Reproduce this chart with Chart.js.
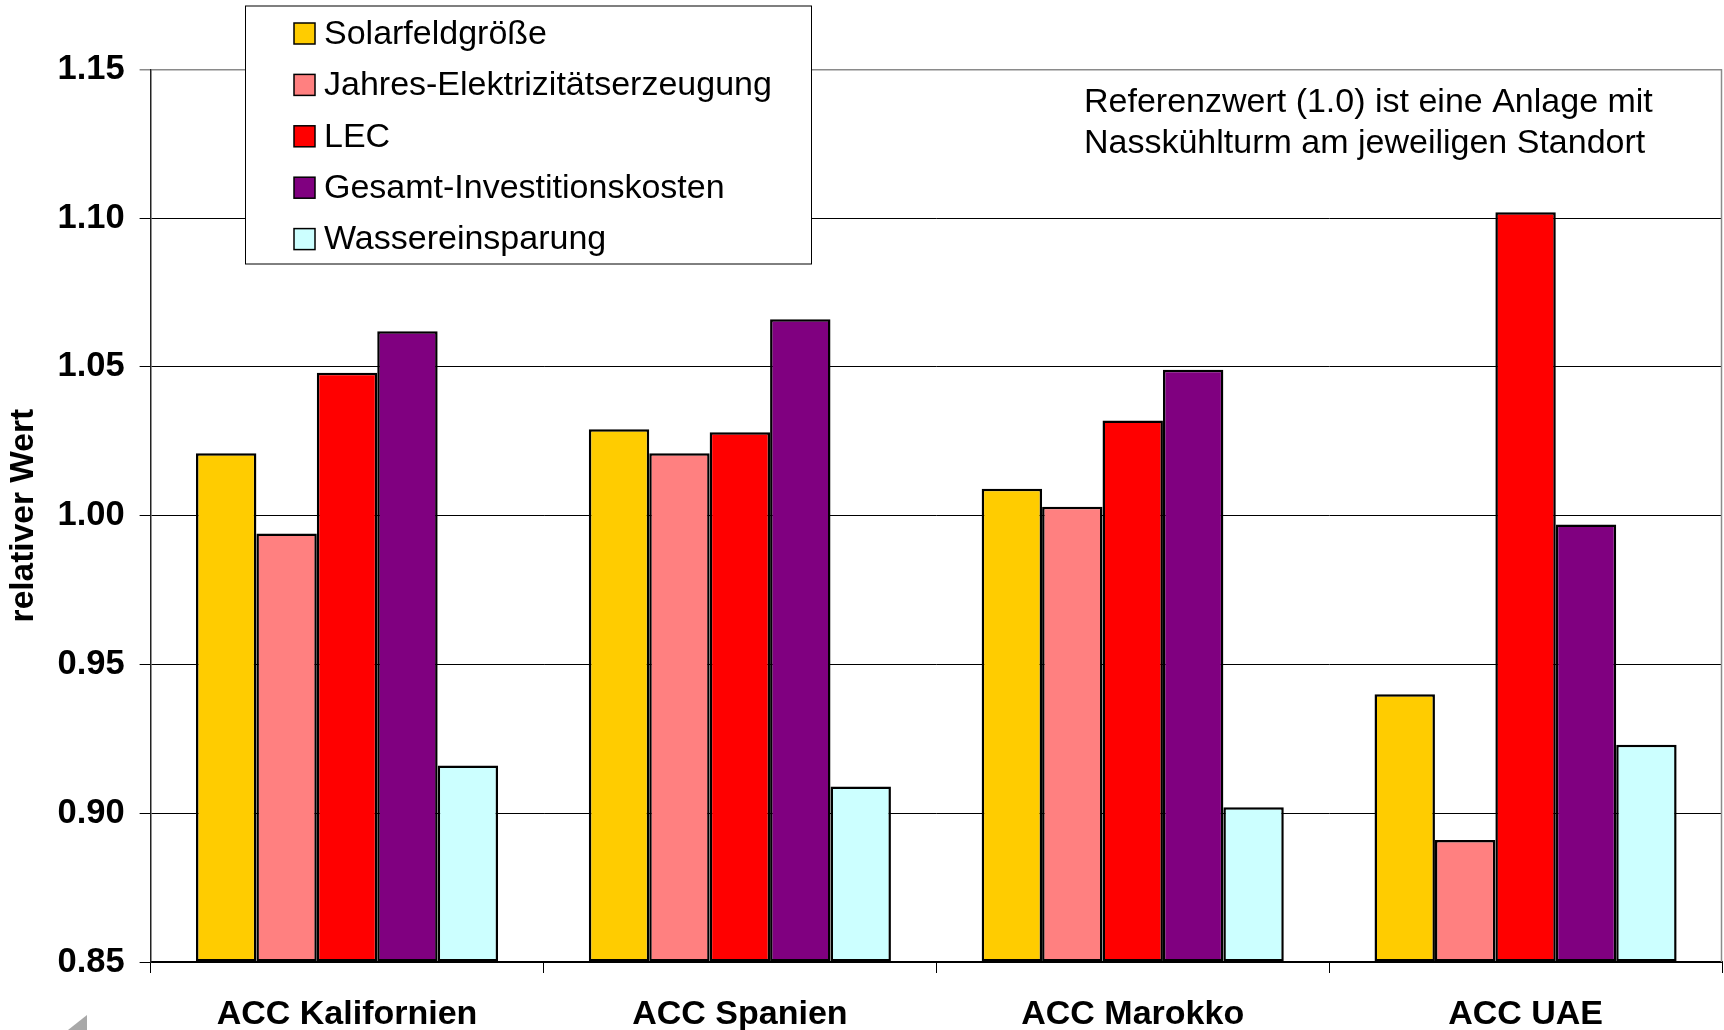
<!DOCTYPE html>
<html>
<head>
<meta charset="utf-8">
<script src="https://cdn.jsdelivr.net/npm/chart.js@4.4.1/dist/chart.umd.min.js"></script>
<style>
  html, body { margin: 0; padding: 0; background: #fff; }
  #wrap { width: 1724px; height: 1030px; position: relative; }
</style>
</head>
<body>
<div id="wrap"><canvas id="c" width="1724" height="1030"></canvas></div>
<script>
// Standorte mit Trockenkühlung (ACC), relativ zur Anlage mit Nasskühlturm
const categories = ['ACC Kalifornien', 'ACC Spanien', 'ACC Marokko', 'ACC UAE'];

const seriesNames = [
  'Solarfeldgröße',
  'Jahres-Elektrizitätserzeugung',
  'LEC',
  'Gesamt-Investitionskosten',
  'Wassereinsparung'
];

const solarfeld     = [1.021, 1.029, 1.009, 0.940];
const jahresStrom   = [0.994, 1.021, 1.003, 0.891];
const lec           = [1.048, 1.028, 1.032, 1.102];
const investition   = [1.062, 1.066, 1.049, 0.997];
const wasser        = [0.916, 0.909, 0.902, 0.923];

const seriesColors = ['#FFCC00', '#FF8080', '#FF0000', '#800080', '#CCFFFF'];

const noteLines = [
  'Referenzwert (1.0) ist eine Anlage mit',
  'Nasskühlturm am jeweiligen Standort'
];

const FONT = '"Liberation Sans", Arial, sans-serif';

const seriesValues = [solarfeld, jahresStrom, lec, investition, wasser];

const datasets = seriesValues.map((vals, i) => ({
  label: seriesNames[i],
  data: vals,
  backgroundColor: seriesColors[i],
  borderColor: '#000',
  borderWidth: 2.5,
  borderSkipped: false,
  base: 0.85,
  categoryPercentage: 0.769,
  barPercentage: 1.0
}));

// Boxed legend, note text, plot frame and the small corner mark
const overlay = {
  id: 'overlay',
  beforeDatasetsDraw(chart) {
    const { ctx, chartArea: a } = chart;
    ctx.save();
    ctx.strokeStyle = '#8a8a8a';
    ctx.lineWidth = 1.5;
    ctx.beginPath();
    ctx.moveTo(a.right - 0.5, a.top);
    ctx.lineTo(a.right - 0.5, a.bottom);
    ctx.stroke();
    ctx.restore();
  },
  afterDraw(chart) {
    const { ctx } = chart;
    ctx.save();

    // legend box
    const bx = 245.5, by = 6, bw = 566, bh = 258;
    ctx.fillStyle = '#fff';
    ctx.fillRect(bx, by, bw, bh);
    ctx.strokeStyle = '#000';
    ctx.lineWidth = 1;
    ctx.strokeRect(bx, by, bw, bh);

    ctx.font = '34px ' + FONT;
    ctx.textBaseline = 'middle';
    ctx.textAlign = 'left';
    chart.data.datasets.forEach((ds, i) => {
      const cy = 33.5 + i * 51.4;
      ctx.fillStyle = ds.backgroundColor;
      ctx.fillRect(294, cy - 10.5, 21, 21);
      ctx.strokeStyle = '#000';
      ctx.lineWidth = 1.5;
      ctx.strokeRect(294, cy - 10.5, 21, 21);
      ctx.fillStyle = '#000';
      ctx.fillText(ds.label, 324, cy + 1);
    });

    // note
    ctx.font = '34px ' + FONT;
    ctx.fillStyle = '#000';
    noteLines.forEach((t, i) => ctx.fillText(t, 1084, 103 + i * 41));

    // corner mark
    ctx.fillStyle = '#a8a8a8';
    ctx.beginPath();
    ctx.moveTo(87, 1015);
    ctx.lineTo(87, 1030);
    ctx.lineTo(68, 1030);
    ctx.closePath();
    ctx.fill();

    ctx.restore();
  }
};

new Chart(document.getElementById('c'), {
  type: 'bar',
  data: { labels: categories, datasets },
  plugins: [overlay],
  options: {
    responsive: false,
    animation: false,
    devicePixelRatio: 1,
    layout: { padding: { left: 0, top: 69.3, right: 2, bottom: 0 } },
    plugins: { legend: { display: false }, tooltip: { enabled: false } },
    scales: {
      x: {
        afterFit(s) { s.height = 68; },
        grid: { offset: true, drawOnChartArea: false, drawTicks: true, tickLength: 11, color: '#000', lineWidth: 1 },
        border: { display: true, color: '#000', width: 2 },
        ticks: {
          color: '#000',
          padding: 21,
          maxRotation: 0,
          font: { family: FONT, size: 34, weight: 'bold' }
        }
      },
      y: {
        min: 0.85,
        max: 1.15,
        afterFit(s) { s.width = 150.6; },
        grid: {
          color: ctx => (ctx.tick && ctx.tick.value >= 1.1499 ? '#8a8a8a' : '#000'),
          lineWidth: ctx => (ctx.tick && ctx.tick.value >= 1.1499 ? 1.5 : 1),
          tickLength: 11
        },
        border: { display: true, color: '#222', width: 1.5 },
        ticks: {
          stepSize: 0.05,
          color: '#000',
          padding: 15,
          font: { family: FONT, size: 34.5, weight: 'bold' },
          callback: v => Number(v).toFixed(2)
        },
        title: {
          display: true,
          text: 'relativer Wert',
          color: '#000',
          padding: { top: 3.5, bottom: 0 },
          font: { family: FONT, size: 33.5, weight: 'bold' }
        }
      }
    }
  }
});
</script>
</body>
</html>
